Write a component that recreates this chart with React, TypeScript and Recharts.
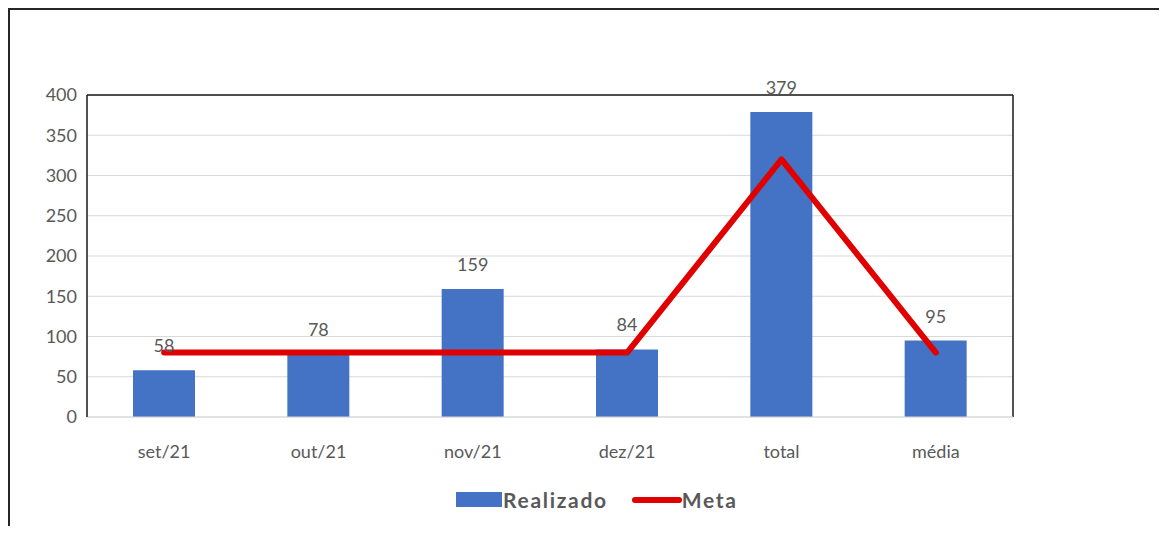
import { ComposedChart, Bar, Line, XAxis, YAxis, CartesianGrid, LabelList, Legend, ReferenceLine } from "recharts"

const categories = ["set/21", "out/21", "nov/21", "dez/21", "total", "média"]
const realizado = [58, 78, 159, 84, 379, 95]
const meta = [80, 80, 80, 80, 320, 80]
const yTicks = [0, 50, 100, 150, 200, 250, 300, 350, 400]

const data = categories.map((name, i) => ({ name, realizado: realizado[i], meta: meta[i] }))

const textColor = "#595959"
const barColor = "#4472C4"
const lineColor = "#E00000"

function ChartLegend() {
  return (
    <div style={{ display: "flex", alignItems: "center", fontFamily: "Lato", fontWeight: 700, fontSize: 21, color: textColor }}>
      <span style={{ display: "inline-block", width: 46, height: 15, background: barColor }} />
      <span style={{ marginLeft: 1, letterSpacing: 1.7 }}>Realizado</span>
      <span style={{ display: "inline-block", width: 50, height: 6, borderRadius: 3, background: lineColor, marginLeft: 24 }} />
      <span style={{ letterSpacing: 1.7 }}>Meta</span>
    </div>
  )
}

export default function App() {
  return (
    <div
      style={{
        boxSizing: "border-box",
        width: 1159,
        height: 518,
        borderTop: "2px solid #262626",
        borderLeft: "2px solid #262626",
        background: "#fff",
        overflow: "hidden",
      }}
    >
      <ComposedChart width={1157} height={516} data={data} margin={{ top: 85, right: 154, bottom: 49, left: 0 }}>
        <CartesianGrid vertical={false} stroke="#D9D9D9" />
        {/* plot area right edge */}
        <CartesianGrid
          horizontal={false}
          verticalCoordinatesGenerator={({ offset }: any) => [offset.left + offset.width]}
          stroke="#1a1a1a"
          strokeWidth={1.5}
        />
        <XAxis
          dataKey="name"
          height={60}
          axisLine={{ stroke: "#D9D9D9" }}
          tickLine={false}
          tickSize={0}
          tickMargin={28}
          tick={{ fill: textColor, fontSize: 18, fontFamily: "Lato" }}
        />
        <YAxis
          domain={[0, 400]}
          ticks={yTicks}
          width={77}
          axisLine={{ stroke: "#1a1a1a", strokeWidth: 1.5 }}
          tickLine={false}
          tickSize={0}
          tickMargin={10}
          tick={{ fill: textColor, fontSize: 18, fontFamily: "Lato" }}
        />
        <ReferenceLine y={400} stroke="#1a1a1a" strokeWidth={1.5} />
        <Bar dataKey="realizado" name="Realizado" fill={barColor} barSize={62} isAnimationActive={false}>
          <LabelList dataKey="realizado" position="top" offset={18} fill={textColor} fontSize={18} fontFamily="Lato" />
        </Bar>
        <Line
          type="linear"
          dataKey="meta"
          name="Meta"
          stroke={lineColor}
          strokeWidth={6}
          strokeLinecap="round"
          strokeLinejoin="round"
          dot={false}
          activeDot={false}
          isAnimationActive={false}
        />
        <Legend verticalAlign="middle" align="center" layout="horizontal" wrapperStyle={{ top: 477, left: 446, width: 320 }} content={() => <ChartLegend />} />
      </ComposedChart>
    </div>
  )
}
